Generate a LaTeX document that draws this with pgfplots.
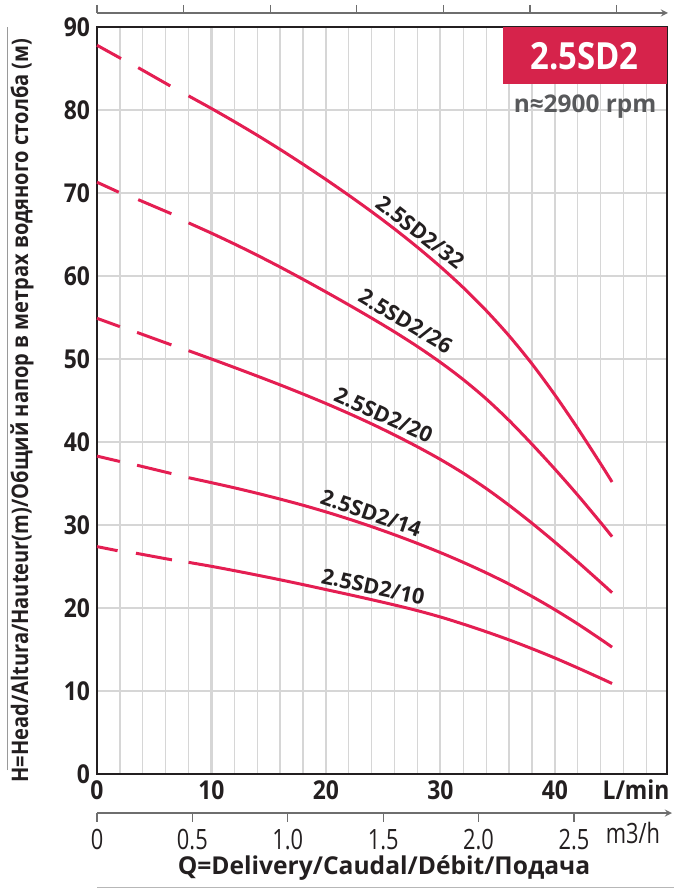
\documentclass[border=0pt]{standalone}
\usepackage{fontspec}
\setmainfont{Open Sans}
\newfontfamily\condfont{Open Sans}[FakeStretch=0.88]
\newfontfamily\condlight{Open Sans}[FakeStretch=0.78]
\usepackage{pgfplots}
\pgfplotsset{compat=1.18}
\definecolor{curvec}{RGB}{228,30,82}
\definecolor{boxred}{RGB}{214,35,75}
\definecolor{framec}{RGB}{35,31,32}
\definecolor{gridc}{RGB}{214,214,214}
\definecolor{axgray}{RGB}{110,110,110}
\definecolor{rpmgray}{RGB}{88,89,91}
\begin{document}
\begin{tikzpicture}
\useasboundingbox (-48.5pt,-57.5pt) rectangle (288.5pt,387pt);
\draw[axgray!70, line width=0.5pt] (-44.5pt,2pt) -- (-44.5pt,373.5pt);
\draw[axgray!50, line width=0.5pt] (0,-56.5pt) -- (288.5pt,-56.5pt);

% US gpm axis at top (labels outside the picture)
\begin{axis}[at={(0,380.5pt)}, anchor=north west, scale only axis,
  width=285.5pt, height=1pt, xmin=0, xmax=13.19, ymin=0, ymax=1,
  axis x line=top, hide y axis, xtick={0,2,...,12}, xticklabels={},
  xtick align=outside, major tick length=4pt,
  axis line style={draw=axgray, line width=0.6pt},
  tick style={draw=axgray, line width=0.6pt}]
\end{axis}

% m3/h axis
\begin{axis}[at={(0,-19.5pt)}, anchor=south west, scale only axis,
  width=287.5pt, height=1pt, xmin=0, xmax=3.014, ymin=0, ymax=1,
  axis x line=bottom, hide y axis,
  xtick={0,0.5,1,1.5,2,2.5}, xticklabels={0,0.5,1.0,1.5,2.0,2.5},
  xtick align=outside, major tick length=4.5pt,
  axis line style={draw=axgray, line width=0.6pt},
  tick style={draw=axgray, line width=0.6pt},
  xticklabel style={font=\condlight\fontsize{14}{16}\selectfont, text=framec},
  /pgf/number format/assume math mode=true]
\end{axis}

\begin{axis}[name=main, at={(0,0)}, anchor=south west, scale only axis,
  width=285pt, height=373.5pt, xmin=0, xmax=49.8, ymin=0, ymax=90,
  clip=false,
  xtick={0,10,20,30,40}, xticklabels={0,10,20,30,40},
  ytick={0,10,...,90}, yticklabels={0,10,20,30,40,50,60,70,80,90},
  minor xtick={2,4,...,48},
  xmajorgrids, xminorgrids, ymajorgrids,
  major x grid style={line width=1.1pt, draw=gridc},
  minor x grid style={line width=0.65pt, draw=gridc},
  major y grid style={line width=0.65pt, draw=gridc},
  major tick length=0pt, minor tick length=0pt,
  axis line style={line width=1.3pt, draw=framec},
  ticklabel style={font=\condfont\bfseries\fontsize{13}{15}\selectfont, text=framec},
  /pgf/number format/assume math mode=true,
  every axis plot/.append style={line width=1.5pt, draw=curvec}]

% 2.5SD2/32
\addplot[curvec] coordinates {(0,87.8) (2.1,86.2)};
\addplot[curvec] coordinates {(3.6,85.1) (6.4,82.9)};
\addplot[curvec, smooth] coordinates {(8,81.7) (10,80.18) (12,78.6) (14,76.96) (16,75.25) (18,73.47) (20,71.63) (22,69.72) (24,67.74) (26,65.66) (28,63.46) (30,61.12) (32,58.6) (34,55.84) (36,52.8) (38,49.42) (40,45.68) (42,41.64) (44,37.38) (45,35.18)};
% 2.5SD2/26
\addplot[curvec] coordinates {(0,71.3) (1.9,70.1)};
\addplot[curvec] coordinates {(3.6,69.2) (6.5,67.5)};
\addplot[curvec, smooth] coordinates {(8,66.4) (10,65.16) (12,63.86) (14,62.5) (16,61.08) (18,59.6) (20,58.08) (22,56.52) (24,54.92) (26,53.26) (28,51.5) (30,49.6) (32,47.52) (34,45.2) (36,42.6) (38,39.74) (40,36.74) (42,33.6) (44,30.3) (45,28.6)};
% 2.5SD2/20
\addplot[curvec] coordinates {(0,54.9) (2,53.9)};
\addplot[curvec] coordinates {(3.5,53.2) (6.5,51.7)};
\addplot[curvec, smooth] coordinates {(8,51.0) (10,50.0) (12,48.98) (14,47.94) (16,46.88) (18,45.78) (20,44.64) (22,43.44) (24,42.18) (26,40.84) (28,39.42) (30,37.9) (32,36.24) (34,34.4) (36,32.38) (38,30.22) (40,27.94) (42,25.56) (44,23.1) (45,21.85)};
% 2.5SD2/14
\addplot[curvec] coordinates {(0,38.3) (2,37.65)};
\addplot[curvec] coordinates {(3.5,37.2) (6.5,36.2)};
\addplot[curvec, smooth] coordinates {(8,35.7) (10,35.1) (12,34.48) (14,33.82) (16,33.12) (18,32.38) (20,31.58) (22,30.72) (24,29.8) (26,28.82) (28,27.78) (30,26.68) (32,25.5) (34,24.24) (36,22.88) (38,21.4) (40,19.8) (42,18.08) (44,16.24) (45,15.28)};
% 2.5SD2/10
\addplot[curvec] coordinates {(0,27.4) (1.8,26.9)};
\addplot[curvec] coordinates {(3.4,26.6) (6.55,25.8)};
\addplot[curvec, smooth] coordinates {(8,25.5) (10,25.02) (12,24.5) (14,23.96) (16,23.4) (18,22.82) (20,22.22) (22,21.62) (24,21.0) (26,20.36) (28,19.68) (30,18.92) (32,18.06) (34,17.14) (36,16.16) (38,15.1) (40,13.98) (42,12.78) (44,11.54) (45,10.9)};

\begin{scope}[every node/.style={font=\bfseries\fontsize{10.8}{12}\selectfont, text=framec, anchor=south, inner sep=2pt}]
\node[rotate=-38] at (axis cs:27.6,64.1) {2.5SD2/32};
\node[rotate=-31] at (axis cs:26.4,53.3) {2.5SD2/26};
\node[rotate=-24] at (axis cs:24.6,41.9) {2.5SD2/20};
\node[rotate=-19] at (axis cs:23.6,30.0) {2.5SD2/14};
\node[rotate=-12] at (axis cs:23.9,21.1) {2.5SD2/10};
\end{scope}

\node[fill=boxred, text=white, anchor=north east, minimum width=82pt, minimum height=28.5pt, inner sep=0pt,
  font=\condfont\bfseries\fontsize{18.7}{20}\selectfont] at (rel axis cs:1,1) {2.5SD2};
\node[text=rpmgray, font=\bfseries\fontsize{12.2}{14}\selectfont] at ([xshift=-41pt,yshift=-40pt]rel axis cs:1,1) {n≈2900 rpm};
\end{axis}

\node[font=\condfont\bfseries\fontsize{13}{15}\selectfont, text=framec] at (269.5pt,-8pt) {L/min};
\node[font=\condlight\fontsize{14}{16}\selectfont, text=framec] at (268pt,-29.5pt) {m3/h};
\node[font=\bfseries\fontsize{12.3}{14}\selectfont, text=framec] at (143.5pt,-47pt) {Q=Delivery/Caudal/Débit/Подача};
\node[rotate=90, font=\condfont\bfseries\fontsize{11.4}{12}\selectfont, text=framec] at (-37.5pt,181.7pt) {H=Head/Altura/Hauteur(m)/Общий напор в метрах водяного столба (м)};
\end{tikzpicture}
\end{document}
